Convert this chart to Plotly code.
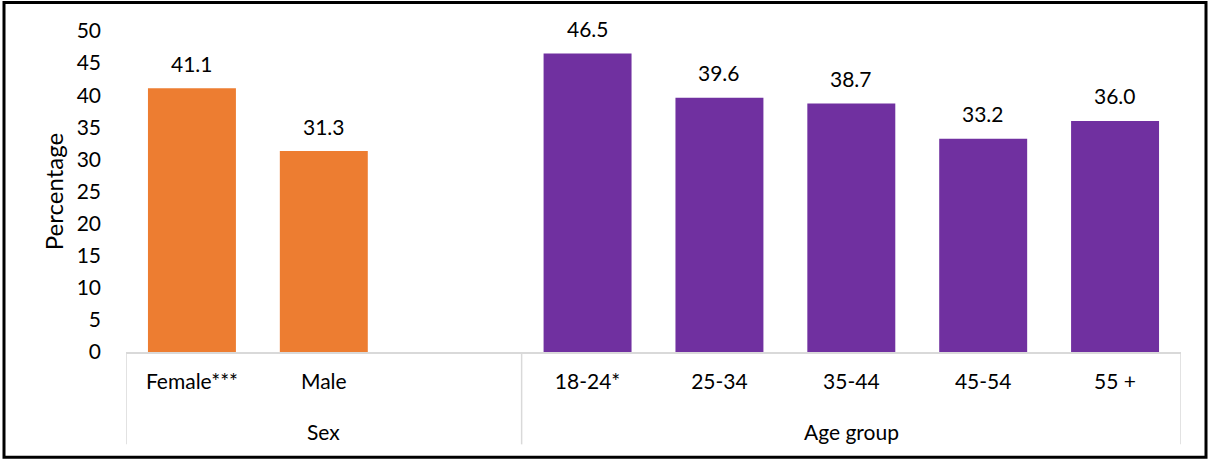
import plotly.graph_objects as go

# Survey results: share (%) by sex and by age group
groups = ["Sex", "Sex", "Sex", "Age group", "Age group", "Age group", "Age group", "Age group"]
categories = ["Female***", "Male", " ", "18-24*", "25-34", "35-44", "45-54", "55 +"]
values = [41.1, 31.3, None, 46.5, 39.6, 38.7, 33.2, 36.0]
bar_colors = ["#ED7D31", "#ED7D31", "#ED7D31", "#7030A0", "#7030A0", "#7030A0", "#7030A0", "#7030A0"]

W, H = 1210, 461
L, R, T, B = 126, 29, 31, 108.5
pw, ph = W - L - R, H - T - B

FONT = "Lato, 'Open Sans', sans-serif"
FS = 21
AXIS_GREY = "#D9D9D9"

def px_x(p):
    return (p - L) / pw

def px_y(p):
    return (H - B - p) / ph

fig = go.Figure()
fig.add_trace(go.Bar(
    x=categories,
    y=values,
    marker=dict(color=bar_colors, line=dict(width=0)),
    width=0.667,
    hoverinfo="skip",
))

# value labels above each bar
for c, v in zip(categories, values):
    if v is None:
        continue
    fig.add_annotation(
        x=c, y=v, text=f"{v:.1f}", showarrow=False,
        yshift=25, font=dict(size=FS, color="#000", family=FONT),
    )

# group labels under the category labels, plus divider lines between groups
n = len(categories)
bounds = [-0.5]
for i in range(1, n):
    if groups[i] != groups[i - 1]:
        bounds.append(i - 0.5)
bounds.append(n - 0.5)

for a, b in zip(bounds[:-1], bounds[1:]):
    fig.add_annotation(
        x=(a + b) / 2, xref="x", y=px_y(432), yref="paper",
        text=groups[int(a + 0.5)], showarrow=False, yanchor="middle",
        font=dict(size=FS, color="#000", family=FONT),
    )
for b in bounds:
    fig.add_shape(type="line", xref="x", yref="paper",
                  x0=b, x1=b, y0=px_y(352.5), y1=px_y(445),
                  line=dict(color=AXIS_GREY, width=1.5))

# outer frame
fig.add_shape(type="rect", xref="paper", yref="paper",
              x0=px_x(4), x1=px_x(1206), y0=px_y(458), y1=px_y(2.5),
              line=dict(color="#000", width=3), fillcolor="rgba(0,0,0,0)")

fig.update_layout(
    width=W, height=H,
    margin=dict(l=L, r=R, t=T, b=B),
    paper_bgcolor="white", plot_bgcolor="white",
    font=dict(family=FONT, size=FS, color="#000"),
    showlegend=False,
    bargap=0.333,
)
fig.update_xaxes(
    type="category", range=[-0.5, n - 0.5],
    showline=True, linecolor=AXIS_GREY, linewidth=1.5,
    ticks="", ticklabelstandoff=10,
    tickfont=dict(size=FS, family=FONT, color="#000"),
)
fig.update_yaxes(
    range=[0, 50], dtick=5, showgrid=False, zeroline=False, showline=False,
    ticks="", ticklabelstandoff=24,
    tickfont=dict(size=FS, family=FONT, color="#000"),
    title=dict(text="Percentage", font=dict(size=24, family=FONT, color="#000"), standoff=6),
)

fig.write_html("out.html")
